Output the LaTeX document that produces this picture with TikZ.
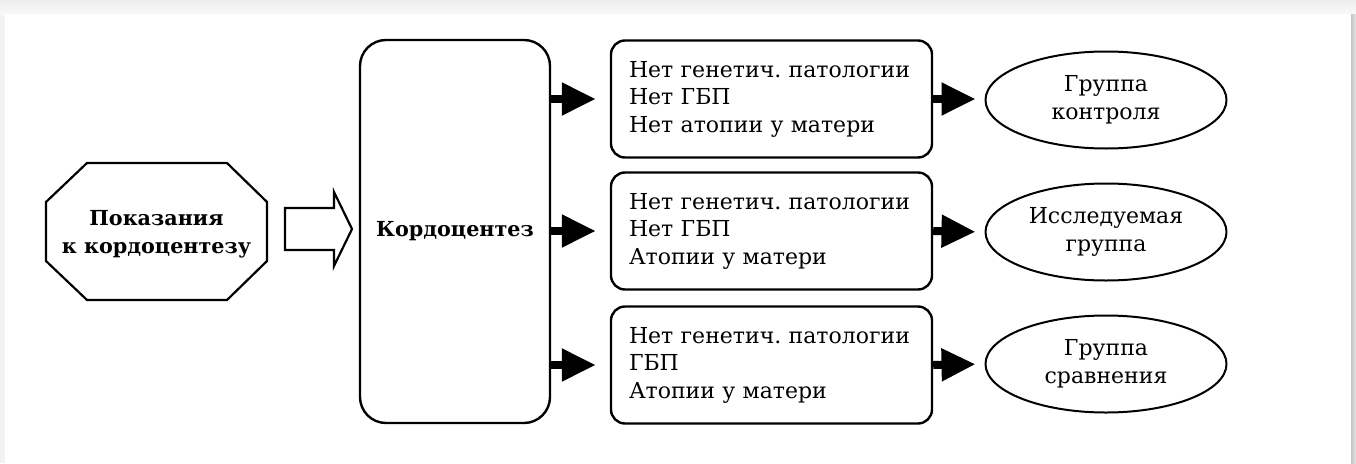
\documentclass[tikz,border=0pt]{standalone}
\usepackage{fontspec}
\setmainfont{DejaVu Serif}
\usetikzlibrary{shapes.geometric,arrows.meta}
\frenchspacing
\begin{document}
\begin{tikzpicture}[x=1pt,y=-1pt,
  txt/.style={font=\fontsize{22}{27.5}\selectfont},
  btxt/.style={font=\fontsize{20.7}{28}\selectfont\bfseries},
  boxnode/.style={draw, line width=2.4pt, rounded corners=14pt, minimum width=321pt, minimum height=117pt, text width=285pt, inner xsep=18pt, inner ysep=6pt, align=left, txt},
  grp/.style={draw, ellipse, line width=2pt, minimum width=241pt, minimum height=97pt, inner sep=0pt, align=center, txt},
  blackarrow/.style={line width=8pt, -{Triangle[length=34pt,width=31pt]}},
]
\useasboundingbox (0,0) rectangle (1356,463);
% background frame
\fill[gray!10] (0,0) rectangle (1356,463);
\shade[top color=gray!14, bottom color=gray!5] (0,0) rectangle (1356,14);
\fill[white] (5,14) rectangle (1351,463);
\shade[left color=gray!45, right color=gray!20] (1351,14) rectangle (1356,463);

% octagon
\draw[line width=2.2pt] (87,163) -- (227,163) -- (267,202) -- (267,261) -- (227,300) -- (87,300) -- (46,261) -- (46,202) -- cycle;
\node[btxt, align=center] (ind) at (156.5,234) {Показания\\к кордоцентезу};

% hollow arrow
\draw[line width=2.2pt, line join=miter] (285,208) -- (334,208) -- (334,192) -- (352,229) -- (334,266) -- (334,250) -- (285,250) -- cycle;

% main box
\node[draw, line width=2.4pt, rounded corners=26pt, minimum width=190pt, minimum height=383pt, btxt] (kord) at (455,231.5) {Кордоцентез};

% criteria boxes
\node[boxnode] (b1) at (771.5,99) {Нет генетич. патологии\\Нет ГБП\\Нет атопии у матери};
\node[boxnode] (b2) at (771.5,231) {Нет генетич. патологии\\Нет ГБП\\Атопии у матери};
\node[boxnode] (b3) at (771.5,365) {Нет генетич. патологии\\ГБП\\Атопии у матери};

% groups
\node[grp] (g1) at (1106,100) {Группа\\контроля};
\node[grp] (g2) at (1106,232) {Исследуемая\\группа};
\node[grp] (g3) at (1106,364) {Группа\\сравнения};

% arrows
\foreach \b in {b1,b2,b3}{
  \draw[blackarrow, shorten >=14pt] (kord.east |- \b.west) -- (\b.west);
}
\draw[blackarrow, shorten >=9pt] (b1.east) -- (g1.west |- b1.east);
\draw[blackarrow, shorten >=9pt] (b2.east) -- (g2.west);
\draw[blackarrow, shorten >=9pt] (b3.east) -- (g3.west);
\end{tikzpicture}
\end{document}
